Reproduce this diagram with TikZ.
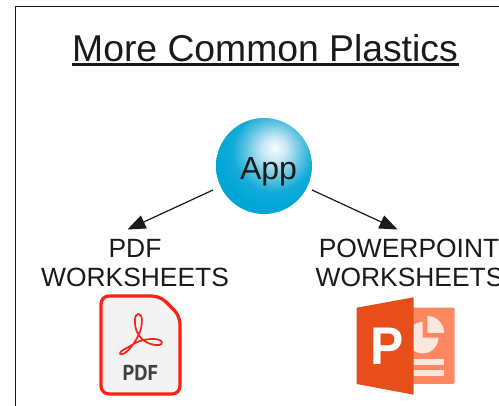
\documentclass[tikz,border=0pt]{standalone}
\usepackage{fontspec}
\setmainfont{Liberation Sans}
\newfontfamily\iconfont{PT Sans}
\usetikzlibrary{arrows.meta}
\definecolor{ink}{HTML}{1A1A1A}
\definecolor{ballA}{HTML}{F8FCFE}
\definecolor{ballB}{HTML}{C5E7F3}
\definecolor{ballC}{HTML}{6CC7E4}
\definecolor{ballD}{HTML}{12ABD8}
\definecolor{ballE}{HTML}{00A7D6}
\definecolor{pdfred}{HTML}{FF2116}
\definecolor{pdfpaper}{HTML}{F3F3F3}
\definecolor{pptfront}{HTML}{E84E1A}
\definecolor{pptback}{HTML}{FF8863}
\definecolor{pptpale}{HTML}{FBE6E0}
\pgfdeclareradialshading{ball}{\pgfpoint{5.75bp}{9.5bp}}{%
  color(0bp)=(ballA); color(6.5bp)=(ballB); color(13.5bp)=(ballC); color(21bp)=(ballD); color(28bp)=(ballE); color(100bp)=(ballE)}
\tikzset{
  label text/.style={font=\fontsize{26.4}{30}\selectfont, text=ink, anchor=base, inner sep=0pt},
  link/.style={draw=ink, line width=1.2pt, -{Triangle[length=18pt,width=14pt]}},
  frame line/.style={draw=ink, line width=1.1pt},
}
\begin{document}
\begin{tikzpicture}[x=1pt,y=-1pt]
\useasboundingbox (0,0) rectangle (499,406);
\clip (0,0) rectangle (499,406);
\fill[white] (0,0) rectangle (499,406);
\draw[frame line] (15.5,410) -- (15.5,6.5) -- (505,6.5);

\node[font=\fontsize{37.3}{40}\selectfont, text=ink, anchor=base, inner sep=0pt] (title) at (265,61.5) {More Common Plastics};
\draw[draw=ink, line width=2.2pt] (72,64.5) -- (458.5,64.5);

\node[circle, minimum size=96pt, inner sep=0pt, shading=ball] (app) at (264,166) {};
\node[font=\fontsize{32}{36}\selectfont, text=ink, anchor=base, inner sep=0pt] (apptext) at (268.5,180) {App};

\node[label text] (pdfa) at (135,258) {PDF};
\node[label text] (pdfb) at (135,287) {WORKSHEETS};
\node[label text] (ppta) at (409,258) {POWERPOINT};
\node[label text] (pptb) at (409.5,287) {WORKSHEETS};

\coordinate (pdfstart) at (213,190);
\coordinate (pptstart) at (312,190);
\coordinate (pdftip) at (127.5,229.5);
\coordinate (ppttip) at (397.5,229.5);
\draw[link] (pdfstart) -- (pdftip);
\draw[link] (pptstart) -- (ppttip);

% PDF icon
\draw[draw=pdfred, fill=pdfpaper, line width=3.2pt, line join=round, rounded corners=8pt]
  (101,296) -- (160,296) -- (180,316) -- (180,394) -- (101,394) -- cycle;
\draw[draw=pdfred, line width=1.7pt, line join=round]
  (120,354) .. controls (125,356) and (134,345) .. (139,334)
  .. controls (143,325) and (143,314) .. (138.3,313.8)
  .. controls (134,314) and (134,325) .. (137,332)
  .. controls (141,341) and (151,346) .. (159.5,345)
  .. controls (163.5,344) and (162.5,340) .. (157,339.3)
  .. controls (148,338) and (137,341) .. (131,345.5)
  .. controls (126,349) and (119,351) .. (120,354) -- cycle;
\node[font=\iconfont\bfseries\fontsize{21.5}{22}\selectfont, text=black!75, anchor=base, inner sep=0pt] (pdfword) at (140.3,381) {\scalebox{0.95}[1]{PDF}};

% PowerPoint icon
\fill[pptback, rounded corners=1.5pt] (405,307.7) rectangle (454.7,384);
\begin{scope}
  \clip (400,310) -- (422.7,310) -- (422.7,337.7) -- (445,337.7) -- (445,360) -- (400,360) -- cycle;
  \fill[pptpale] (422.7,337.7) circle[radius=15.7];
\end{scope}
\begin{scope}
  \clip (427.3,310) rectangle (450,332.7);
  \fill[pptpale] (427.3,332.7) circle[radius=16.7];
\end{scope}
\fill[pptpale] (405,359.5) rectangle (444,365);
\fill[pptpale] (405,370) rectangle (444,375.7);
\fill[pptfront] (356.7,307.7) -- (413.7,297.3) -- (413.7,394.7) -- (356.7,384) -- cycle;
\node[font=\bfseries\fontsize{53}{54}\selectfont, text=white, anchor=base, inner sep=0pt] (pptword) at (387,365) {\scalebox{0.94}[1]{P}};
\end{tikzpicture}
\end{document}
